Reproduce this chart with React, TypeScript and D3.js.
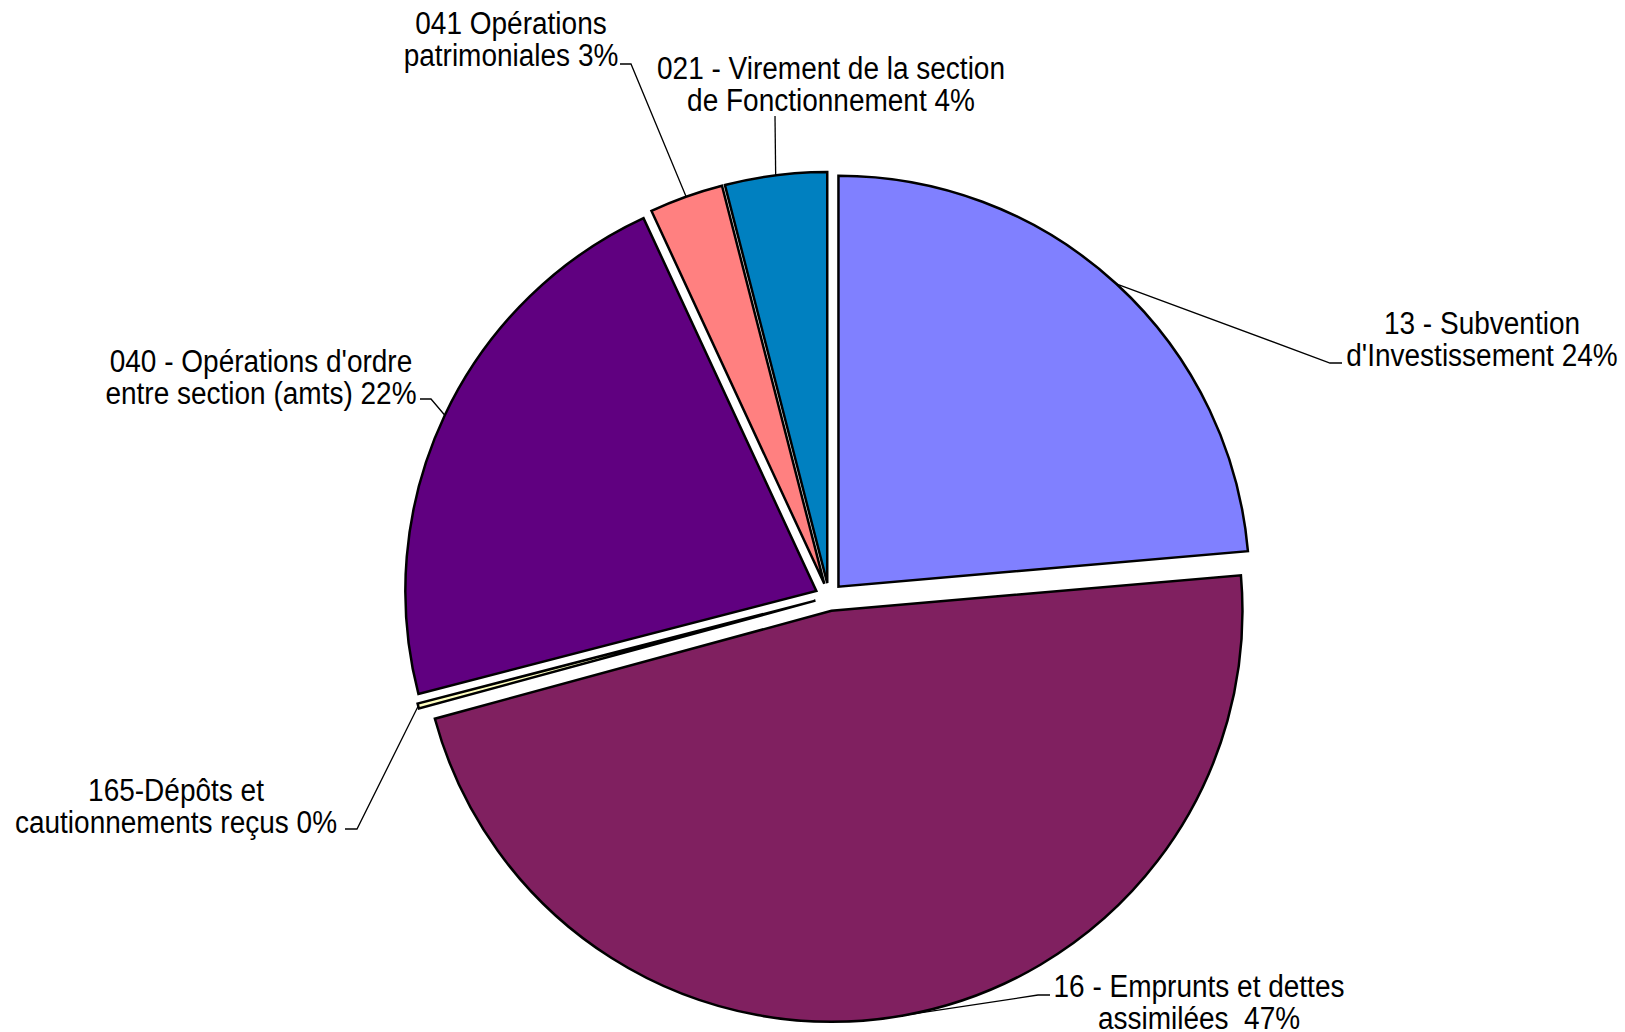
import React from "react";
import * as d3 from "d3";

const categories = [
  "13 - Subvention d'Investissement",
  "16 - Emprunts et dettes assimilées",
  "165-Dépôts et cautionnements reçus",
  "040 - Opérations d'ordre entre section (amts)",
  "041 Opérations patrimoniales",
  "021 - Virement de la section de Fonctionnement",
];
const labelLine1 = [
  "13 - Subvention",
  "16 - Emprunts et dettes",
  "165-Dépôts et",
  "040 - Opérations d'ordre",
  "041 Opérations",
  "021 - Virement de la section",
];
const labelLine2 = [
  "d'Investissement",
  "assimilées ",
  "cautionnements reçus",
  "entre section (amts)",
  "patrimoniales",
  "de Fonctionnement",
];
const values = [23.6, 47.1, 0.2, 22.1, 2.9, 4.0];
const colors = ["#8080FF", "#802060", "#FFFFC0", "#600080", "#FF8080", "#0080C0"];

// layout (pixels)
const W = 1625;
const H = 1032;
const CX = 829;
const CY = 597;
const R = 411;
const EXPLODE = 14;
const FONT = 28;
const VSCALE = 1.1;
const LINE_GAP = 32;
const labelPos: [number, number][] = [
  [1482, 323],
  [1199, 986],
  [176, 790],
  [261, 361],
  [511, 23],
  [831, 68],
];
const leaderPts: [number, number][][] = [
  [[1330, 363], [1342, 363]],
  [[1038, 995], [1050, 995]],
  [[357, 829], [345, 829]],
  [[431, 399], [420, 399]],
  [[631, 64], [620, 64]],
  [[775, 116]],
];

export default function App() {
  const total = d3.sum(values);
  const pie = d3
    .pie<number>()
    .sort(null)
    .value((d) => d)
    .startAngle(0)
    .endAngle(2 * Math.PI);
  const arcs = pie(values);
  const arcGen = d3.arc<d3.PieArcDatum<number>>().innerRadius(0).outerRadius(R);
  const line = d3.line();

  return (
    <svg
      width={W}
      height={H}
      style={{ position: "absolute", left: 0, top: 0, background: "#fff" }}
      fontFamily="'Liberation Sans', Arial, sans-serif"
    >
      {arcs.map((a, i) => {
        const mid = (a.startAngle + a.endAngle) / 2;
        const ox = CX + EXPLODE * Math.sin(mid);
        const oy = CY - EXPLODE * Math.cos(mid);
        const ax = ox + R * Math.sin(mid);
        const ay = oy - R * Math.cos(mid);
        const pts: [number, number][] = [[ax, ay], ...leaderPts[i]];
        const pct = Math.round((values[i] / total) * 100);
        const [lx, ly] = labelPos[i];
        const gap = LINE_GAP / VSCALE;
        return (
          <g key={categories[i]}>
            <path
              d={arcGen(a) || ""}
              transform={`translate(${ox},${oy})`}
              fill={colors[i]}
              stroke="#000"
              strokeWidth={2.5}
              strokeLinejoin="miter"
            />
            <path d={line(pts) || ""} fill="none" stroke="#000" strokeWidth={1.3} />
            <g transform={`translate(0,${ly}) scale(1,${VSCALE})`}>
              <text
                textAnchor="middle"
                fontSize={FONT}
                fill="#000"
                style={{ whiteSpace: "pre" }}
              >
                <tspan x={lx} y={0} dy="0.35em">
                  {labelLine1[i]}
                </tspan>
                <tspan x={lx} y={gap} dy="0.35em">
                  {labelLine2[i] + " " + pct + "%"}
                </tspan>
              </text>
            </g>
          </g>
        );
      })}
    </svg>
  );
}
